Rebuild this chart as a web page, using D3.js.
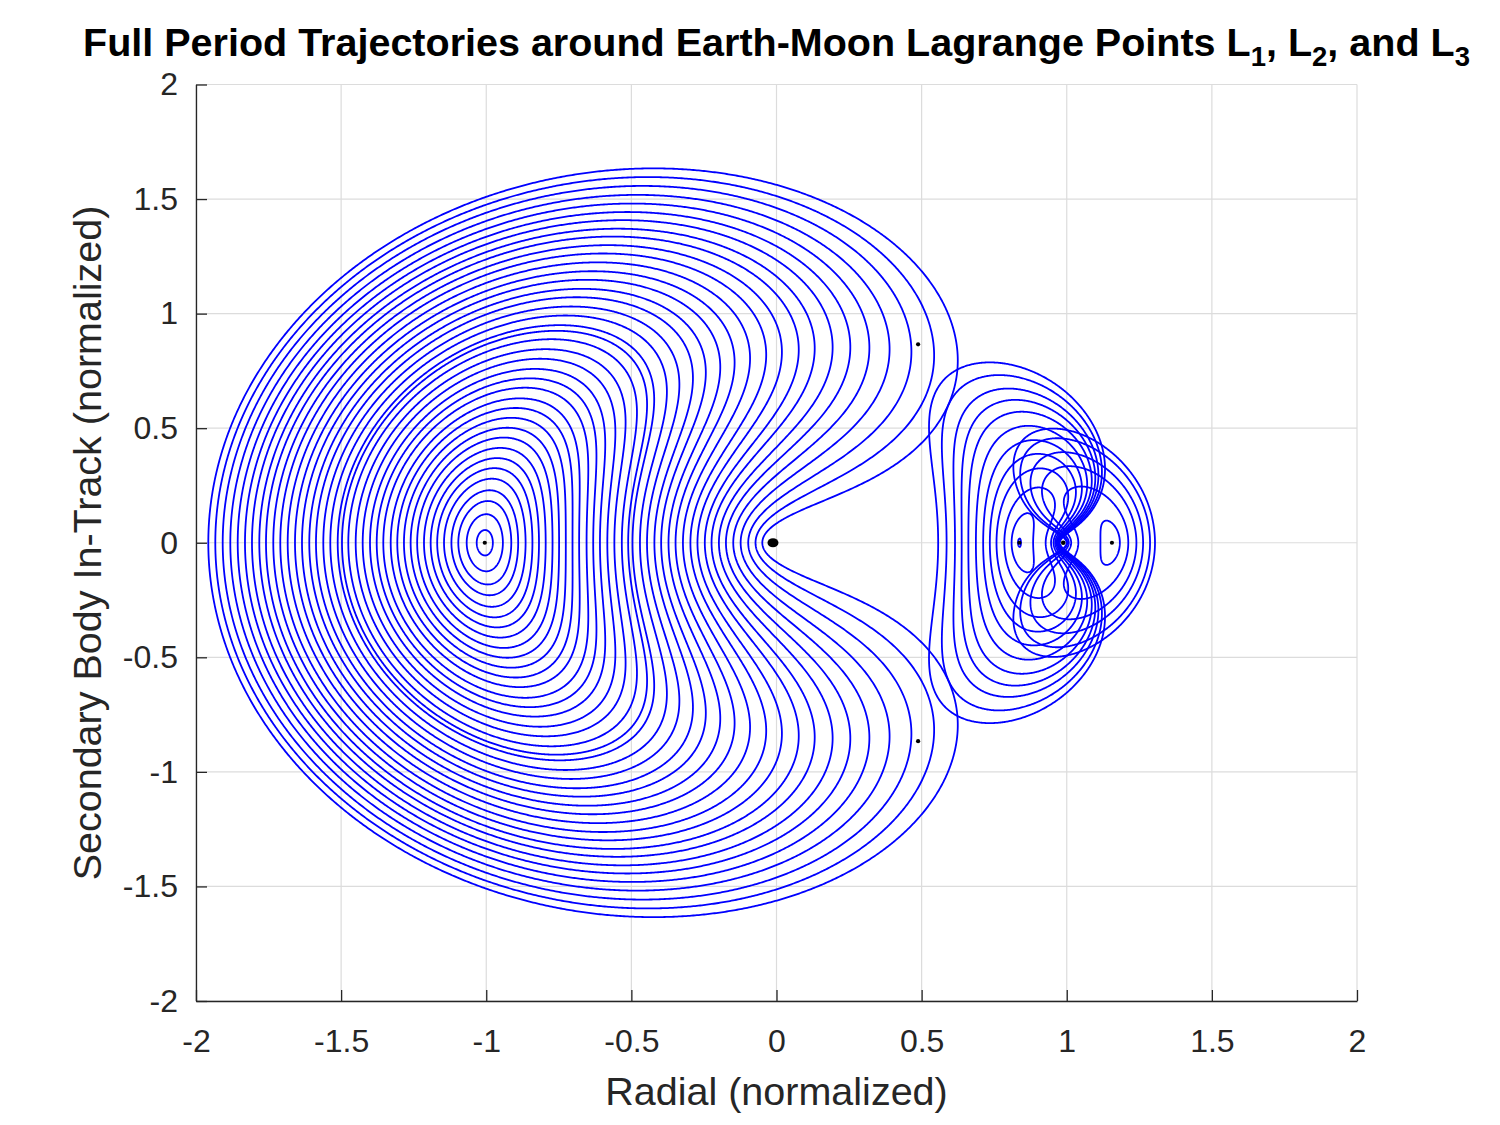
<!DOCTYPE html>
<html><head><meta charset="utf-8">
<script src="https://cdn.jsdelivr.net/npm/d3@7"></script>
<style>
body{margin:0;background:#fff}
svg{display:block}
text{font-family:"Liberation Sans",Arial,Helvetica,sans-serif}
</style>
</head><body>
<svg id="c" width="1500" height="1125"></svg>
<script>
// ---------------- data ----------------
const MU = 0.01215; // Earth-Moon mass ratio
// x-axis crossing (start point) of each plotted orbit, per family
const L3_X0 = [-1.0329,-1.0674,-1.0963,-1.1200,-1.1455,-1.1690,-1.1915,-1.2145,-1.2380,-1.2605,-1.2835,-1.3065,-1.3292,-1.3547,-1.3774,-1.4005,-1.4257,-1.4498,-1.4753,-1.4970,-1.5118,-1.5373,-1.5614,-1.5866,-1.6097,-1.6348,-1.6589,-1.6841,-1.7096,-1.7337,-1.7588,-1.7819,-1.8071,-1.8312,-1.8563,-1.8818,-1.9080,-1.9335,-1.9576];
const L1_X0 = [0.832,0.810,0.785,0.758,0.735,0.712,0.687,0.661,0.638,0.615,0.586,0.557];
const L2_X0 = [1.183,1.212,1.240,1.263,1.287,1.304];
const X_TICKS = [-2,-1.5,-1,-0.5,0,0.5,1,1.5,2];
const Y_TICKS = [-2,-1.5,-1,-0.5,0,0.5,1,1.5,2];
const TITLE_PARTS = [["Full Period Trajectories around Earth-Moon Lagrange Points L",false],["1",true],[", L",false],["2",true],[", and L",false],["3",true]];
const X_LABEL = "Radial (normalized)";
const Y_LABEL = "Secondary Body In-Track (normalized)";

// ---------------- layout ----------------
const svg = d3.select("#c");
const xs = d3.scaleLinear().domain([-2,2]).range([196,1357]);
const ys = d3.scaleLinear().domain([-2,2]).range([1001,84.5]);
const PXX = 290.25, PXY = 229;

// ---------------- CR3BP dynamics ----------------
function f(x,y,vx,vy){
  const a=x+MU, b=x-1+MU;
  const r1=Math.sqrt(a*a+y*y), r2=Math.sqrt(b*b+y*y);
  const q1=(1-MU)/(r1*r1*r1), q2=MU/(r2*r2*r2);
  return [vx, vy, 2*vy + x - q1*a - q2*b, -2*vx + y - q1*y - q2*y];
}
function rk4(s,h){
  const k1=f(s[0],s[1],s[2],s[3]);
  const k2=f(s[0]+h/2*k1[0],s[1]+h/2*k1[1],s[2]+h/2*k1[2],s[3]+h/2*k1[3]);
  const k3=f(s[0]+h/2*k2[0],s[1]+h/2*k2[1],s[2]+h/2*k2[2],s[3]+h/2*k2[3]);
  const k4=f(s[0]+h*k3[0],s[1]+h*k3[1],s[2]+h*k3[2],s[3]+h*k3[3]);
  return [s[0]+h/6*(k1[0]+2*k2[0]+2*k3[0]+k4[0]),
          s[1]+h/6*(k1[1]+2*k2[1]+2*k3[1]+k4[1]),
          s[2]+h/6*(k1[2]+2*k2[2]+2*k3[2]+k4[2]),
          s[3]+h/6*(k1[3]+2*k2[3]+2*k3[3]+k4[3])];
}
function stepSize(s){
  const a=s[0]+MU, b=s[0]-1+MU;
  const r1=Math.hypot(a,s[1]), r2=Math.hypot(b,s[1]);
  return Math.min(0.004, 0.03*r1*Math.sqrt(r1/(1-MU)), 0.03*r2*Math.sqrt(r2/MU));
}
function halfOrbit(x0,vy0,rec){
  let s=[x0,0,0,vy0], t=0, n=0;
  const pts = rec?[[x0,0]]:null;
  let last=[x0,0];
  while(t<14 && n<400000){
    const h=stepSize(s);
    const ns=rk4(s,h); n++;
    if(s[1]!==0 && s[1]*ns[1]<0){
      let hh=h*s[1]/(s[1]-ns[1]), st;
      for(let i=0;i<6;i++){ st=rk4(s,hh); hh-=st[1]/st[3]; }
      st=rk4(s,hh);
      if(rec) pts.push([st[0],0]);
      return {state:st,t:t+hh,pts};
    }
    s=ns; t+=h;
    if(rec){
      const dx=(s[0]-last[0])*PXX, dy=(s[1]-last[1])*PXY;
      if(dx*dx+dy*dy>0.36){ pts.push([s[0],s[1]]); last=[s[0],s[1]]; }
    }
  }
  return null;
}
function F(x0,v){ const r=halfOrbit(x0,v,false); return r?r.state[2]:null; }
function correct(x0,g){
  let v0=g, f0=F(x0,v0); if(f0===null) return null;
  let v1=g+1e-6*Math.max(1,Math.abs(g)), f1=F(x0,v1); if(f1===null) return null;
  for(let i=0;i<30;i++){
    if(Math.abs(f1)<1e-11) return v1;
    if(f1===f0) break;
    const v2=v1-f1*(v1-v0)/(f1-f0);
    v0=v1; f0=f1; v1=v2; f1=F(x0,v1);
    if(f1===null) return null;
  }
  return Math.abs(f1)<1e-8?v1:null;
}
function fullOrbit(x0,vy0){
  const h=halfOrbit(x0,vy0,true); if(!h) return null;
  const p=h.pts;
  return p.concat(p.slice(0,-1).reverse().map(d=>[d[0],-d[1]]));
}
function axisRoot(lo,hi){
  const g=x=>{const a=x+MU,b=x-1+MU;return x-(1-MU)*a/Math.abs(a)**3-MU*b/Math.abs(b)**3;};
  let flo=g(lo);
  for(let i=0;i<200;i++){const m=(lo+hi)/2,fm=g(m); if((fm>0)===(flo>0)){lo=m;flo=fm;}else hi=m;}
  return (lo+hi)/2;
}
const L1=axisRoot(0.5,1-MU-1e-4), L2=axisRoot(1-MU+1e-4,1.6), L3=axisRoot(-1.6,-0.5);
const L4=[0.5-MU,Math.sqrt(3)/2], L5=[0.5-MU,-Math.sqrt(3)/2];

function family(L,targets){
  const c2=(1-MU)/Math.abs(L+MU)**3+MU/Math.abs(L-1+MU)**3;
  const lam=Math.sqrt((2-c2+Math.sqrt(9*c2*c2-8*c2))/2);
  const k=(lam*lam+1+2*c2)/(2*lam);
  const dir=Math.sign(targets[0]-L);
  const out=[];
  let xcur=L+dir*0.002;
  let v=correct(xcur,-k*lam*(xcur-L));
  if(v===null) return out;
  const hist=[[xcur,v]];
  for(const xt of targets){
    let step=0.004, ok=true;
    while(Math.abs(xt-xcur)>1e-12){
      const xn=Math.abs(xt-xcur)<=step?xt:xcur+dir*step;
      let g;
      if(hist.length>=2){const a=hist[hist.length-2],b=hist[hist.length-1]; g=b[1]+(b[1]-a[1])/(b[0]-a[0])*(xn-b[0]);}
      else g=-k*lam*(xn-L);
      const vn=correct(xn,g);
      if(vn===null){ step/=2; if(step<2e-6){ok=false;break;} continue; }
      xcur=xn; hist.push([xn,vn]); if(hist.length>3) hist.shift();
      step=Math.min(step*1.5,0.004);
    }
    if(!ok) break;
    const o=fullOrbit(xt,hist[hist.length-1][1]);
    if(o) out.push(o);
  }
  return out;
}

const orbits=[].concat(family(L3,L3_X0),family(L1,L1_X0),family(L2,L2_X0));

// ---------------- drawing ----------------
svg.append("rect").attr("width",1500).attr("height",1125).attr("fill","#fff");
svg.append("defs").append("clipPath").attr("id","clip").append("rect")
  .attr("x",196).attr("y",84.5).attr("width",1161).attr("height",916.5);

const grid=svg.append("g").attr("stroke","#dcdcdc").attr("stroke-width",1.2);
grid.selectAll("line.gx").data(X_TICKS).join("line").attr("class","gx")
  .attr("x1",d=>xs(d)).attr("x2",d=>xs(d)).attr("y1",ys(2)).attr("y2",ys(-2));
grid.selectAll("line.gy").data(Y_TICKS).join("line").attr("class","gy")
  .attr("y1",d=>ys(d)).attr("y2",d=>ys(d)).attr("x1",xs(-2)).attr("x2",xs(2));

const line=d3.line().x(d=>xs(d[0])).y(d=>ys(d[1]));
svg.append("g").attr("clip-path","url(#clip)").selectAll("path").data(orbits).join("path")
  .attr("d",line).attr("fill","none").attr("stroke","#0000ff").attr("stroke-width",1.8);

const marks=svg.append("g").attr("fill","#000");
marks.append("ellipse").attr("cx",xs(-MU)).attr("cy",ys(0)).attr("rx",5.5).attr("ry",4.5);
marks.append("circle").attr("cx",xs(1-MU)).attr("cy",ys(0)).attr("r",2.3);
marks.selectAll("circle.lp").data([[L1,0],[L2,0],[L3,0],L4,L5]).join("circle").attr("class","lp")
  .attr("cx",d=>xs(d[0])).attr("cy",d=>ys(d[1])).attr("r",2.1);

const fmt=d=>String(d);
const ax=svg.append("g").attr("transform",`translate(0,${ys(-2)})`)
  .call(d3.axisBottom(xs).tickValues(X_TICKS).tickFormat(fmt).tickSizeInner(-11).tickSizeOuter(0).tickPadding(28));
const ay=svg.append("g").attr("transform",`translate(${xs(-2)},0)`)
  .call(d3.axisLeft(ys).tickValues(Y_TICKS).tickFormat(fmt).tickSizeInner(-11).tickSizeOuter(0).tickPadding(18));
[ax,ay].forEach(g=>{
  g.select(".domain").attr("stroke","#262626").attr("stroke-width",1.3);
  g.selectAll(".tick line").attr("stroke","#262626").attr("stroke-width",1.3);
  g.selectAll(".tick text").attr("fill","#262626").attr("font-size",32)
   .attr("font-family",'"Liberation Sans",Arial,Helvetica,sans-serif');
});

svg.append("text").attr("x",776.5).attr("y",1105).attr("text-anchor","middle")
  .attr("font-size",39.5).attr("fill","#262626").text(X_LABEL);
svg.append("text").attr("transform","translate(101,543) rotate(-90)").attr("text-anchor","middle")
  .attr("font-size",39.5).attr("fill","#262626").text(Y_LABEL);

const title=svg.append("text").attr("x",776.5).attr("y",56).attr("text-anchor","middle")
  .attr("font-size",39.5).attr("font-weight","bold").attr("fill","#000");
let prevSub=false;
TITLE_PARTS.forEach(([t,sub])=>{
  const ts=title.append("tspan").text(t);
  if(sub){ ts.attr("font-size",27.5).attr("dy",10); }
  else if(prevSub){ ts.attr("dy",-10); }
  prevSub=sub;
});
</script>
</body></html>
